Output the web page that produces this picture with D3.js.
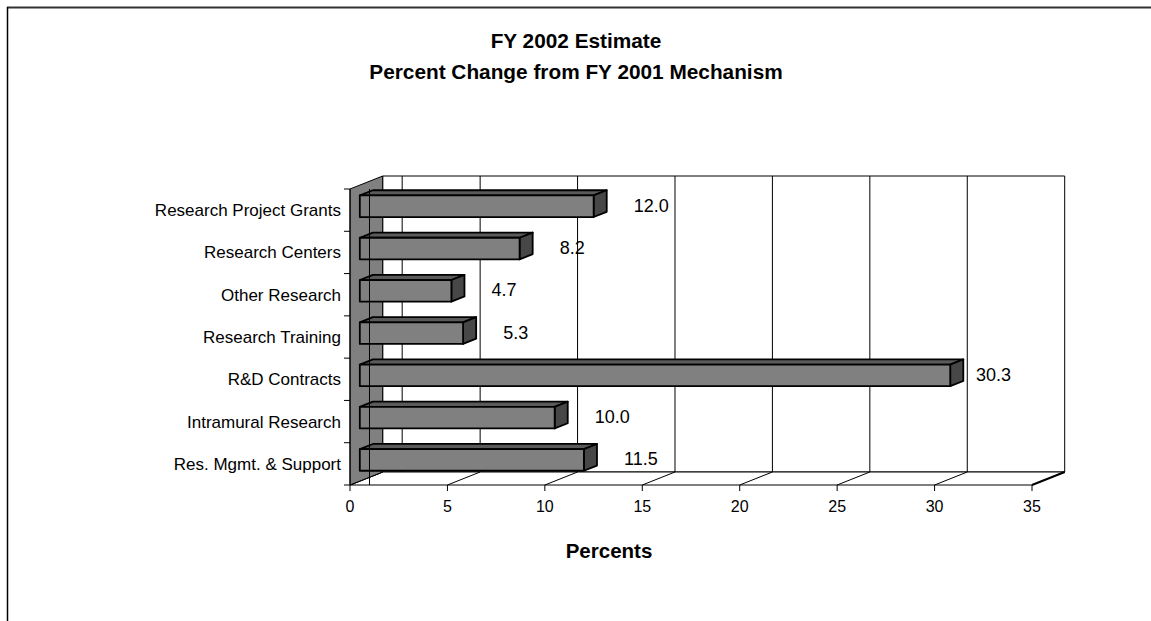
<!DOCTYPE html>
<html>
<head>
<meta charset="utf-8">
<script src="https://cdn.jsdelivr.net/npm/d3@7"></script>
<style>
  body { margin: 0; background: #fff; }
  svg text { font-family: Arial, "Liberation Sans", sans-serif; fill: #000; }
</style>
</head>
<body>
<svg id="chart" width="1151" height="621"></svg>
<script>
// ---- data ----
const categories = [
  "Research Project Grants",
  "Research Centers",
  "Other Research",
  "Research Training",
  "R&D Contracts",
  "Intramural Research",
  "Res. Mgmt. & Support"
];
const values = [12.0, 8.2, 4.7, 5.3, 30.3, 10.0, 11.5];
const xTicks = [0, 5, 10, 15, 20, 25, 30, 35];
const titleLines = ["FY 2002 Estimate", "Percent Change from FY 2001 Mechanism"];
const xAxisTitle = "Percents";
const crossAt = 1; // value where the category axis plane crosses

// ---- layout ----
const svg = d3.select("#chart");
const W = 1151, H = 621;

const x = d3.scaleLinear().domain([0, 35]).range([350, 1032]);
const y = d3.scaleBand().domain(categories).range([189, 485])
  .paddingInner(0.49).paddingOuter(0.245);
const yTop = 189, yBottom = 485;
const step = (yBottom - yTop) / categories.length;

// depth projection: moving one unit "back" shifts right and up
const DX = 32.7, DY = -13;
const P = (v, yy, d) => [x(v) + d * DX, yy + d * DY];
const poly = pts => "M" + pts.map(p => p.join(",")).join("L") + "Z";

// ---- outer frame ----
svg.append("line").attr("x1", 7).attr("x2", W).attr("y1", 7.5).attr("y2", 7.5)
  .attr("stroke", "#333").attr("stroke-width", 2);
svg.append("line").attr("x1", 7.5).attr("x2", 7.5).attr("y1", 7).attr("y2", H)
  .attr("stroke", "#000").attr("stroke-width", 1.5);

// ---- titles ----
svg.append("g").selectAll("text").data(titleLines).join("text")
  .attr("x", 576).attr("y", (d, i) => 47.5 + i * 31)
  .attr("text-anchor", "middle")
  .style("font-size", "20.8px").style("font-weight", "bold")
  .text(d => d);

const xmin = x.domain()[0], xmax = x.domain()[1];

// ---- back wall ----
const wall = svg.append("g");
wall.append("path")
  .attr("d", poly([P(xmin, yTop, 1), P(xmax, yTop, 1), P(xmax, yBottom, 1), P(xmin, yBottom, 1)]))
  .attr("fill", "#fff").attr("stroke", "#000").attr("stroke-width", 1);
wall.selectAll("line.grid").data(xTicks.filter(t => t > xmin && t < xmax).concat([crossAt]))
  .join("line").attr("class", "grid")
  .attr("x1", d => P(d, yTop, 1)[0]).attr("x2", d => P(d, yBottom, 1)[0])
  .attr("y1", P(0, yTop, 1)[1]).attr("y2", P(0, yBottom, 1)[1])
  .attr("stroke", "#000").attr("stroke-width", 1);

// ---- floor ----
const floor = svg.append("g");
floor.append("path")
  .attr("d", poly([P(xmin, yBottom, 0), P(xmax, yBottom, 0), P(xmax, yBottom, 1), P(xmin, yBottom, 1)]))
  .attr("fill", "#fff").attr("stroke", "#000").attr("stroke-width", 1.2);
floor.selectAll("line.fg").data(xTicks).join("line").attr("class", "fg")
  .attr("x1", d => P(d, yBottom, 0)[0]).attr("y1", d => P(d, yBottom, 0)[1])
  .attr("x2", d => P(d, yBottom, 1)[0]).attr("y2", d => P(d, yBottom, 1)[1])
  .attr("stroke", "#000").attr("stroke-width", d => d === xmax ? 2 : 1);

// ---- side wall ----
svg.append("path")
  .attr("d", poly([P(xmin, yTop, 0), P(xmin, yTop, 1), P(xmin, yBottom, 1), P(xmin, yBottom, 0)]))
  .attr("fill", "#808080").attr("stroke", "#000").attr("stroke-width", 1);

// ---- axes ticks ----
svg.append("g").selectAll("line").data(d3.range(categories.length + 1)).join("line")
  .attr("x1", x(xmin) - 6).attr("x2", x(xmin))
  .attr("y1", i => yTop + i * step).attr("y2", i => yTop + i * step)
  .attr("stroke", "#000");
svg.append("line").attr("x1", x(xmin)).attr("x2", x(xmin)).attr("y1", yTop).attr("y2", yBottom)
  .attr("stroke", "#000");

const xAxis = svg.append("g");
xAxis.selectAll("line").data(xTicks).join("line")
  .attr("x1", d => x(d)).attr("x2", d => x(d)).attr("y1", yBottom).attr("y2", yBottom + 6)
  .attr("stroke", "#000");
xAxis.selectAll("text").data(xTicks).join("text")
  .attr("x", d => x(d)).attr("y", 511.5)
  .attr("text-anchor", "middle").style("font-size", "16px")
  .text(d => d);

// category labels
svg.append("g").selectAll("text").data(categories).join("text")
  .attr("x", 341).attr("y", d => y(d) + y.bandwidth() / 2 + 6)
  .attr("text-anchor", "end").style("font-size", "17px")
  .text(d => d);

// ---- bars ----
const d0 = 0.3, d1 = 0.7;
const rows = categories.map((c, i) => ({ c, v: values[i] }));
const bars = svg.append("g").selectAll("g").data(rows).join("g");
bars.append("path") // top face
  .attr("d", r => {
    const t = y(r.c);
    return poly([P(0, t, d0), P(r.v, t, d0), P(r.v, t, d1), P(0, t, d1)]);
  })
  .attr("fill", "#5a5a5a").attr("stroke", "#000").attr("stroke-width", 1.8).attr("stroke-linejoin", "round");
bars.append("path") // end face
  .attr("d", r => {
    const t = y(r.c), b = t + y.bandwidth();
    return poly([P(r.v, t, d0), P(r.v, t, d1), P(r.v, b, d1), P(r.v, b, d0)]);
  })
  .attr("fill", "#474747").attr("stroke", "#000").attr("stroke-width", 1.8).attr("stroke-linejoin", "round");
bars.append("path") // front face
  .attr("d", r => {
    const t = y(r.c), b = t + y.bandwidth();
    return poly([P(0, t, d0), P(r.v, t, d0), P(r.v, b, d0), P(0, b, d0)]);
  })
  .attr("fill", "#808080").attr("stroke", "#000").attr("stroke-width", 1.8).attr("stroke-linejoin", "round");

// crossing plane edge drawn through the bars
svg.append("line")
  .attr("x1", x(crossAt)).attr("x2", x(crossAt)).attr("y1", yTop).attr("y2", yBottom)
  .attr("stroke", "#000").attr("stroke-width", 1);

// value labels
svg.append("g").selectAll("text").data(rows).join("text")
  .attr("x", r => Math.min(x(r.v) + 50, x(xmax) - 56))
  .attr("y", r => y(r.c) + y.bandwidth() / 2 + 1.6)
  .style("font-size", "18px")
  .text(r => r.v.toFixed(1));

// axis title
svg.append("text").attr("x", 609).attr("y", 557.7)
  .attr("text-anchor", "middle").style("font-size", "20.5px").style("font-weight", "bold")
  .text(xAxisTitle);
</script>
</body>
</html>
